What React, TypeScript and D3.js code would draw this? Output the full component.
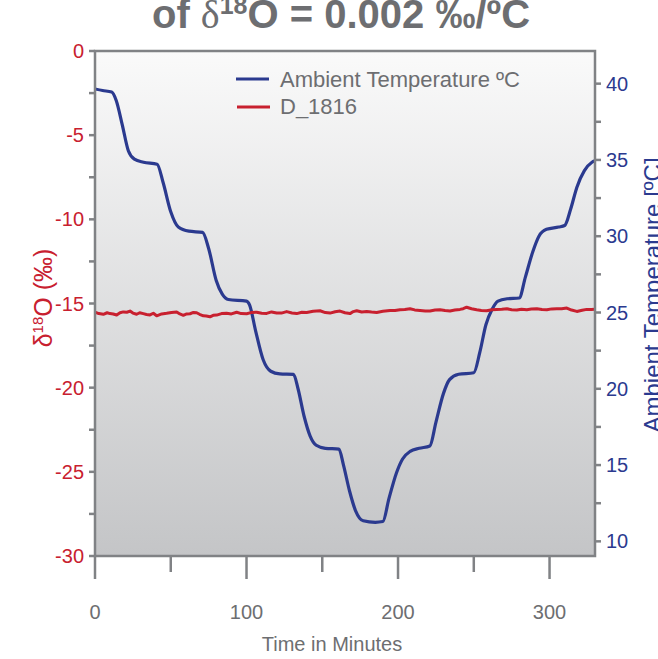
import * as d3 from 'd3';

// time (minutes) / ambient temperature (°C)
const tempTime = [0, 5, 11, 14, 18, 22, 26, 32, 41, 45, 50, 55, 62, 71, 75, 80, 84, 88, 100, 102, 106, 111, 116, 122, 131, 134, 138, 142, 146, 152, 161, 164, 168, 172, 177, 185, 190, 194, 199, 203, 208, 214, 221, 225, 230, 234, 240, 250, 254, 258, 262, 266, 272, 280, 284, 289, 293, 298, 306, 310, 314, 318, 323, 328, 330];
const tempValue = [39.65, 39.55, 39.45, 38.9, 37.3, 35.6, 35.05, 34.85, 34.72, 33.5, 31.6, 30.6, 30.33, 30.25, 29.2, 27.1, 26.2, 25.85, 25.75, 25.5, 23.8, 21.9, 21.15, 20.98, 20.95, 20.0, 18.2, 16.9, 16.3, 16.1, 16.05, 15.0, 13.3, 12.0, 11.35, 11.25, 11.3, 12.8, 14.5, 15.4, 15.9, 16.1, 16.25, 17.8, 19.7, 20.6, 20.95, 21.05, 22.4, 24.2, 25.2, 25.75, 25.9, 25.95, 27.3, 29.0, 30.0, 30.45, 30.6, 30.7, 31.8, 33.2, 34.3, 34.85, 34.95];

// D_1816 δ18O (‰)
const d18Time = [0, 2.5, 5.5, 8, 9.9, 12, 14.3, 16.5, 18.7, 21, 23.1, 25, 27.5, 29.5, 31.9, 34, 36.3, 38.5, 40.7, 44, 47.3, 50.5, 53.9, 56, 58.3, 60.5, 62.7, 65, 67.1, 69, 71.5, 73.5, 75.9, 78, 80.3, 83.5, 86.9, 90, 93.5, 96.5, 100.1, 103.5, 106.7, 110, 113.3, 116.5, 119.9, 123, 126.5, 130, 133.1, 136.5, 139.7, 144, 148.5, 152, 155.1, 158.5, 161.7, 165, 168.3, 170.5, 172.7, 176, 179.3, 182.5, 185.9, 190, 194.7, 198, 201.3, 204.5, 207.9, 211, 214.5, 218, 221.1, 224.5, 227.7, 231, 234.3, 237.5, 240.9, 243, 245.3, 248.5, 251.9, 255, 258.5, 262, 265.1, 268.5, 271.8, 275, 278.4, 281.5, 285, 288, 291.6, 295, 298.2, 301.5, 304.8, 308, 311.4, 314.5, 318, 321.5, 324.6, 327.5, 330];
const d18Value = [-15.52, -15.6, -15.64, -15.55, -15.6, -15.62, -15.68, -15.55, -15.5, -15.52, -15.45, -15.57, -15.64, -15.55, -15.6, -15.65, -15.68, -15.58, -15.73, -15.62, -15.58, -15.53, -15.5, -15.62, -15.7, -15.62, -15.61, -15.53, -15.55, -15.64, -15.73, -15.74, -15.79, -15.7, -15.69, -15.6, -15.58, -15.62, -15.52, -15.6, -15.61, -15.53, -15.52, -15.58, -15.59, -15.5, -15.56, -15.57, -15.48, -15.56, -15.6, -15.52, -15.53, -15.46, -15.43, -15.54, -15.57, -15.49, -15.45, -15.55, -15.6, -15.48, -15.43, -15.5, -15.47, -15.51, -15.53, -15.46, -15.41, -15.42, -15.37, -15.36, -15.31, -15.38, -15.41, -15.44, -15.45, -15.39, -15.37, -15.42, -15.45, -15.39, -15.35, -15.31, -15.22, -15.31, -15.37, -15.41, -15.43, -15.37, -15.35, -15.34, -15.31, -15.37, -15.39, -15.34, -15.37, -15.33, -15.31, -15.36, -15.37, -15.32, -15.31, -15.31, -15.27, -15.39, -15.47, -15.4, -15.35, -15.36, -15.34];

const xMajor = [0, 100, 200, 300];
const xMinor = [50, 150, 250];
const leftMajor = [0, -5, -10, -15, -20, -25, -30];
const leftMinor = [-2.5, -7.5, -12.5, -17.5, -22.5, -27.5];
const rightMajor = [40, 35, 30, 25, 20, 15, 10];
const rightMinor = [37.5, 32.5, 27.5, 22.5, 17.5, 12.5];

const W = 658;
const H = 659;
const left = 95;
const right = 595;
const top = 51;
const bottom = 556;

const gray = '#808285';
const textGray = '#6d6e71';
const red = '#c8202f';
const blue = '#2b3a8f';
const font = '"Liberation Sans", Arial, Helvetica, sans-serif';

export default function App() {
  const x = d3.scaleLinear().domain([0, 330]).range([left, right]);
  const yL = d3.scaleLinear().domain([-30, 0]).range([bottom, top]);
  const yR = d3.scaleLinear().domain([9.04, 42.14]).range([bottom, top]);

  const tempLine = d3
    .line<number>()
    .x((d, i) => x(tempTime[i]))
    .y((d) => yR(d))
    .curve(d3.curveMonotoneX);

  const d18Line = d3
    .line<number>()
    .x((d, i) => x(d18Time[i]))
    .y((d) => yL(d));

  return (
    <svg
      width={W}
      height={H}
      style={{ position: 'absolute', left: 0, top: 0, fontFamily: font }}
    >
      <defs>
        <linearGradient id="bg" x1="0" y1="0" x2="0" y2="1">
          <stop offset="0%" stopColor="#fafafa" />
          <stop offset="100%" stopColor="#c4c5c7" />
        </linearGradient>
        <clipPath id="plot">
          <rect x={left} y={top} width={right - left} height={bottom - top} />
        </clipPath>
      </defs>

      <text
        x={341}
        y={28}
        textAnchor="middle"
        fill={textGray}
        style={{ fontWeight: 700, fontSize: '40px' }}
      >
        of{' '}
        <tspan style={{ fontFamily: '"Liberation Serif", serif', fontWeight: 400 }}>δ</tspan>
        <tspan dy={-14} style={{ fontSize: '25px' }}>18</tspan>
        <tspan dy={14}>O = 0.002 ‰/ºC</tspan>
      </text>

      <rect
        x={left}
        y={top}
        width={right - left}
        height={bottom - top}
        fill="url(#bg)"
      />

      <g clipPath="url(#plot)">
        <path d={tempLine(tempValue) ?? ''} fill="none" stroke={blue} strokeWidth={3.2} />
        <path d={d18Line(d18Value) ?? ''} fill="none" stroke={red} strokeWidth={3} strokeLinejoin="round" />
      </g>

      <rect
        x={left}
        y={top}
        width={right - left}
        height={bottom - top}
        fill="none"
        stroke={gray}
        strokeWidth={2.5}
      />

      {/* x axis */}
      {xMajor.map((t) => (
        <g key={'xM' + t}>
          <line x1={x(t)} x2={x(t)} y1={bottom} y2={bottom + 23} stroke={gray} strokeWidth={2.5} />
          <text x={x(t)} y={619} textAnchor="middle" fill={textGray} style={{ fontSize: '20px' }}>
            {t}
          </text>
        </g>
      ))}
      {xMinor.map((t) => (
        <line key={'xm' + t} x1={x(t)} x2={x(t)} y1={bottom} y2={bottom + 16} stroke={gray} strokeWidth={2.5} />
      ))}
      <text x={332} y={651} textAnchor="middle" fill={textGray} style={{ fontSize: '20px' }}>
        Time in Minutes
      </text>

      {/* left axis */}
      {leftMajor.map((v) => (
        <g key={'lM' + v}>
          <line x1={left - 6} x2={left} y1={yL(v)} y2={yL(v)} stroke={gray} strokeWidth={2.5} />
          <text x={84} y={yL(v) + 7} textAnchor="end" fill={red} style={{ fontSize: '20px' }}>
            {v}
          </text>
        </g>
      ))}
      {leftMinor.map((v) => (
        <line key={'lm' + v} x1={left - 6} x2={left} y1={yL(v)} y2={yL(v)} stroke={gray} strokeWidth={2.5} />
      ))}
      <text
        transform={`translate(52, 298) rotate(-90)`}
        textAnchor="middle"
        fill={red}
        style={{ fontSize: '25px' }}
      >
        δ<tspan dy={-9} style={{ fontSize: '15px' }}>18</tspan>
        <tspan dy={9}>O (‰)</tspan>
      </text>

      {/* right axis */}
      {rightMajor.map((v) => (
        <g key={'rM' + v}>
          <line x1={right} x2={right + 6} y1={yR(v)} y2={yR(v)} stroke={gray} strokeWidth={2.5} />
          <text x={606} y={yR(v) + 7} fill={blue} style={{ fontSize: '20px' }}>
            {v}
          </text>
        </g>
      ))}
      {rightMinor.map((v) => (
        <line key={'rm' + v} x1={right} x2={right + 6} y1={yR(v)} y2={yR(v)} stroke={gray} strokeWidth={2.5} />
      ))}
      <text
        transform={`translate(661, 295) rotate(-90)`}
        textAnchor="middle"
        fill={blue}
        style={{ fontSize: '24px' }}
      >
        Ambient Temperature [ºC]
      </text>

      {/* legend */}
      <line x1={236} x2={269} y1={79} y2={79} stroke={blue} strokeWidth={3.2} />
      <text x={280} y={87} fill={textGray} style={{ fontSize: '22px' }}>
        Ambient Temperature ºC
      </text>
      <line x1={237} x2={270} y1={107} y2={107} stroke={red} strokeWidth={3} />
      <text x={280} y={114} fill={textGray} style={{ fontSize: '22px' }}>
        D_1816
      </text>
    </svg>
  );
}
